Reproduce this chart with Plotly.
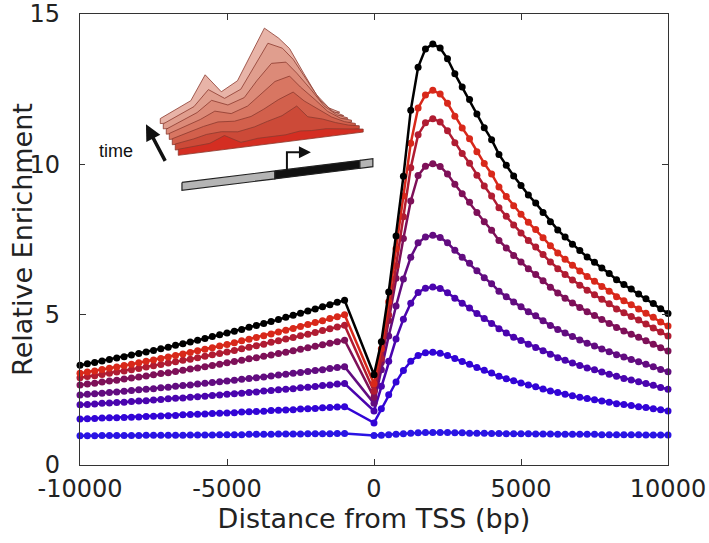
import plotly.graph_objects as go

# ---------------- data ----------------
X_LEFT = list(range(-10000, -999, 250))      # -10000 .. -1000
X_RIGHT = list(range(0, 10001, 250))         # 0 .. 10000

Y_BLACK_L = [3.32, 3.37, 3.41, 3.46, 3.51, 3.56, 3.60, 3.66, 3.71, 3.76, 3.81, 3.87, 3.92, 3.98, 4.03, 4.09, 4.15, 4.21, 4.27, 4.33, 4.39, 4.45, 4.51, 4.58, 4.64, 4.71, 4.77, 4.84, 4.91, 4.98, 5.05, 5.12, 5.19, 5.26, 5.33, 5.41, 5.48]
Y_BLACK_R = [3.00, 4.10, 5.75, 7.62, 9.60, 11.80, 13.23, 13.84, 14.00, 13.87, 13.51, 13.01, 12.57, 12.16, 11.67, 11.22, 10.82, 10.33, 9.97, 9.61, 9.30, 8.98, 8.71, 8.40, 8.09, 7.82, 7.58, 7.34, 7.13, 6.92, 6.74, 6.55, 6.37, 6.16, 6.00, 5.85, 5.69, 5.53, 5.37, 5.20, 5.04]

Y_RED_L = [3.05, 3.09, 3.13, 3.18, 3.22, 3.26, 3.31, 3.35, 3.40, 3.45, 3.49, 3.54, 3.59, 3.64, 3.69, 3.74, 3.80, 3.85, 3.90, 3.96, 4.01, 4.07, 4.13, 4.18, 4.24, 4.30, 4.36, 4.42, 4.48, 4.54, 4.61, 4.67, 4.74, 4.80, 4.87, 4.93, 5.00]
Y_RED_R = [2.70, 3.87, 5.43, 7.19, 8.95, 10.70, 11.87, 12.31, 12.46, 12.34, 12.03, 11.60, 11.21, 10.85, 10.42, 10.03, 9.68, 9.25, 8.93, 8.62, 8.34, 8.07, 7.83, 7.56, 7.29, 7.05, 6.84, 6.64, 6.45, 6.27, 6.11, 5.94, 5.78, 5.60, 5.46, 5.33, 5.19, 5.05, 4.91, 4.76, 4.62]

Y_DKRED_L = [2.90, 2.94, 2.97, 3.01, 3.05, 3.09, 3.13, 3.17, 3.21, 3.26, 3.30, 3.34, 3.39, 3.43, 3.48, 3.52, 3.57, 3.62, 3.67, 3.71, 3.76, 3.81, 3.87, 3.92, 3.97, 4.02, 4.08, 4.13, 4.19, 4.24, 4.30, 4.35, 4.41, 4.47, 4.53, 4.59, 4.65]
Y_DKRED_R = [2.45, 3.54, 4.99, 6.62, 8.26, 9.89, 10.98, 11.38, 11.52, 11.41, 11.12, 10.72, 10.36, 10.04, 9.64, 9.28, 8.95, 8.56, 8.27, 7.98, 7.72, 7.47, 7.25, 7.00, 6.75, 6.53, 6.34, 6.15, 5.98, 5.81, 5.66, 5.51, 5.36, 5.19, 5.06, 4.94, 4.82, 4.69, 4.56, 4.42, 4.29]

Y_MAGENTA_L = [2.66, 2.69, 2.72, 2.76, 2.79, 2.82, 2.86, 2.89, 2.93, 2.96, 3.00, 3.04, 3.07, 3.11, 3.15, 3.19, 3.23, 3.27, 3.31, 3.35, 3.40, 3.44, 3.48, 3.53, 3.57, 3.62, 3.66, 3.71, 3.75, 3.80, 3.85, 3.90, 3.95, 4.00, 4.05, 4.10, 4.15]
Y_MAGENTA_R = [2.25, 3.42, 4.81, 6.21, 7.53, 8.78, 9.63, 9.94, 10.02, 9.93, 9.68, 9.34, 9.02, 8.74, 8.40, 8.09, 7.81, 7.47, 7.22, 6.97, 6.75, 6.53, 6.34, 6.13, 5.91, 5.72, 5.55, 5.39, 5.24, 5.10, 4.97, 4.84, 4.71, 4.57, 4.46, 4.35, 4.25, 4.13, 4.02, 3.90, 3.79]

Y_PURPLE_L = [2.33, 2.35, 2.37, 2.39, 2.41, 2.43, 2.45, 2.48, 2.50, 2.52, 2.54, 2.57, 2.59, 2.62, 2.64, 2.66, 2.69, 2.72, 2.74, 2.77, 2.79, 2.82, 2.85, 2.88, 2.90, 2.93, 2.96, 2.99, 3.02, 3.05, 3.08, 3.11, 3.14, 3.17, 3.21, 3.24, 3.27]
Y_PURPLE_R = [2.05, 3.17, 4.29, 5.29, 6.19, 6.91, 7.39, 7.58, 7.64, 7.57, 7.39, 7.14, 6.91, 6.71, 6.46, 6.23, 6.03, 5.78, 5.60, 5.42, 5.26, 5.10, 4.96, 4.80, 4.64, 4.51, 4.39, 4.27, 4.16, 4.05, 3.96, 3.86, 3.77, 3.67, 3.59, 3.51, 3.43, 3.35, 3.27, 3.18, 3.10]

Y_INDIGO_L = [2.00, 2.01, 2.03, 2.05, 2.06, 2.08, 2.09, 2.11, 2.13, 2.14, 2.16, 2.18, 2.20, 2.22, 2.23, 2.25, 2.27, 2.29, 2.31, 2.33, 2.35, 2.37, 2.39, 2.41, 2.43, 2.46, 2.48, 2.50, 2.52, 2.54, 2.57, 2.59, 2.61, 2.64, 2.66, 2.69, 2.71]
Y_INDIGO_R = [1.80, 2.62, 3.45, 4.19, 4.85, 5.38, 5.74, 5.88, 5.92, 5.87, 5.73, 5.55, 5.38, 5.22, 5.04, 4.87, 4.71, 4.53, 4.39, 4.25, 4.14, 4.02, 3.91, 3.80, 3.68, 3.57, 3.48, 3.39, 3.31, 3.23, 3.17, 3.09, 3.02, 2.95, 2.88, 2.83, 2.77, 2.71, 2.65, 2.58, 2.52]

Y_BLUE_L = [1.53, 1.54, 1.55, 1.56, 1.57, 1.57, 1.58, 1.59, 1.60, 1.61, 1.62, 1.63, 1.64, 1.65, 1.67, 1.68, 1.69, 1.70, 1.71, 1.72, 1.73, 1.74, 1.76, 1.77, 1.78, 1.79, 1.81, 1.82, 1.83, 1.84, 1.86, 1.87, 1.88, 1.90, 1.91, 1.93, 1.94]
Y_BLUE_R = [1.40, 1.87, 2.34, 2.76, 3.14, 3.45, 3.64, 3.73, 3.75, 3.72, 3.64, 3.54, 3.44, 3.35, 3.24, 3.15, 3.06, 2.95, 2.87, 2.80, 2.73, 2.66, 2.60, 2.53, 2.46, 2.41, 2.35, 2.30, 2.25, 2.21, 2.17, 2.13, 2.09, 2.04, 2.01, 1.98, 1.94, 1.91, 1.87, 1.84, 1.80]

Y_FLAT_L = [0.97, 0.97, 0.97, 0.98, 0.98, 0.98, 0.98, 0.98, 0.98, 0.99, 0.99, 0.99, 0.99, 0.99, 0.99, 1.00, 1.00, 1.00, 1.00, 1.01, 1.01, 1.01, 1.01, 1.02, 1.02, 1.02, 1.02, 1.03, 1.03, 1.03, 1.03, 1.04, 1.04, 1.04, 1.04, 1.05, 1.05]
Y_FLAT_R = [0.98, 0.99, 1.01, 1.02, 1.04, 1.06, 1.07, 1.08, 1.08, 1.08, 1.08, 1.07, 1.07, 1.06, 1.06, 1.06, 1.05, 1.05, 1.04, 1.04, 1.04, 1.04, 1.03, 1.03, 1.03, 1.02, 1.02, 1.02, 1.02, 1.02, 1.02, 1.01, 1.01, 1.01, 1.01, 1.01, 1.01, 1.00, 1.00, 1.00, 1.00]

SERIES = [  # drawn bottom (blue) to top (black)
    ("flat", Y_FLAT_L, Y_FLAT_R, "#2a14e4"),
    ("blue", Y_BLUE_L, Y_BLUE_R, "#3204d6"),
    ("indigo", Y_INDIGO_L, Y_INDIGO_R, "#4a04ae"),
    ("purple", Y_PURPLE_L, Y_PURPLE_R, "#620c80"),
    ("magenta", Y_MAGENTA_L, Y_MAGENTA_R, "#7e1058"),
    ("dkred", Y_DKRED_L, Y_DKRED_R, "#b01c32"),
    ("red", Y_RED_L, Y_RED_R, "#d8281a"),
    ("black", Y_BLACK_L, Y_BLACK_R, "#000000"),
]

X_TICKS = [-10000, -5000, 0, 5000, 10000]
Y_TICKS = [0, 5, 10, 15]
X_TITLE = "Distance from TSS (bp)"
Y_TITLE = "Relative Enrichment"

# inset schematic (ridge heights per time layer, front -> back)
INSET_S = [0, .1, .17, .25, .34, .43, .5, .58, .66, .72, .8, .87, .94, 1.0]
INSET_LAYERS = [
    [6, 7, 8, 14, 5, 7, 7, 7, 9, 8, 8, 6, 4, 3],
    [6, 9, 12, 13, 11, 14, 18, 22, 30, 18, 14, 9, 5, 3],
    [6, 11, 15, 18, 17, 20, 26, 34, 40, 30, 20, 11, 5, 2],
    [6, 12, 17, 24, 20, 26, 36, 48, 52, 40, 26, 13, 5, 2],
    [5, 13, 19, 30, 24, 30, 46, 62, 62, 50, 32, 15, 5, 1],
    [5, 14, 20, 36, 26, 34, 54, 78, 72, 60, 37, 17, 5, 0],
    [5, 14, 21, 46, 28, 38, 62, 89, 78, 67, 41, 19, 5, 0],
]
INSET_COLORS = ["#d42e22", "#cc4a38", "#d2604c", "#d87662", "#dc8a78", "#e09e8e", "#e8b4a8"]

for nm, yl, yr, _ in SERIES:
    assert len(yl) == len(X_LEFT), nm
    assert len(yr) == len(X_RIGHT), nm

FONT = "DejaVu Sans"
fig = go.Figure()

for nm, yl, yr, col in SERIES:
    fig.add_trace(go.Scatter(
        x=X_LEFT + X_RIGHT, y=yl + yr, mode="lines+markers",
        line=dict(color=col, width=2.5),
        marker=dict(symbol="circle", size=7, color=col),
        cliponaxis=False, showlegend=False, hoverinfo="skip", name=nm))

# ---- inset (pixel-like coordinates on hidden axes) ----
for i in range(len(INSET_LAYERS) - 1, -1, -1):
    lx, ly = 178.3 - 3.0 * i, 155.0 - 5.3 * i
    rx, ry = 363.3 - 3.9 * i, 131.7 - 3.3 * i
    bx = [lx + s * (rx - lx) for s in INSET_S]
    by = [ly + s * (ry - ly) for s in INSET_S]
    ty = [b - h for b, h in zip(by, INSET_LAYERS[i])]
    px = bx + bx[::-1] + [bx[0]]
    py = ty + by[::-1] + [ty[0]]
    fig.add_trace(go.Scatter(
        x=px, y=py, mode="lines", fill="toself", fillcolor=INSET_COLORS[i],
        line=dict(color="#8c3a2e", width=0.8), xaxis="x2", yaxis="y2",
        showlegend=False, hoverinfo="skip"))

# gene bar
GENE_PARTS = [
    ([182, 275, 275, 182, 182], [182.1, 170.6, 178.6, 190.1, 182.1], "#b4b4b4"),
    ([275, 360, 360, 275, 275], [170.6, 160.0, 168.0, 178.6, 170.6], "#111111"),
    ([360, 373, 373, 360, 360], [160.0, 158.4, 166.4, 168.0, 160.0], "#b4b4b4"),
]
for gx, gy, gc in GENE_PARTS:
    fig.add_trace(go.Scatter(
        x=gx, y=gy, mode="lines", fill="toself", fillcolor=gc,
        line=dict(color="#222222", width=1.2), xaxis="x2", yaxis="y2",
        showlegend=False, hoverinfo="skip"))
fig.add_trace(go.Scatter(
    x=[287, 287, 302], y=[169.5, 152, 152], mode="lines",
    line=dict(color="#111111", width=2), xaxis="x2", yaxis="y2",
    showlegend=False, hoverinfo="skip"))

annotations = [
    dict(x=311, y=152, ax=299, ay=152, xref="x2", yref="y2", axref="x2", ayref="y2",
         text="", showarrow=True, arrowhead=2, arrowsize=1.2, arrowwidth=2, arrowcolor="#111111"),
    dict(x=146, y=124, ax=166, ay=162, xref="x2", yref="y2", axref="x2", ayref="y2",
         text="", showarrow=True, arrowhead=2, arrowsize=0.9, arrowwidth=3.5, arrowcolor="#111111"),
    dict(x=116, y=151, xref="x2", yref="y2", text="time", showarrow=False,
         font=dict(family="Liberation Sans", size=18, color="#111111")),
    # y-axis title placed as rotated text
    dict(x=-0.098, y=0.5, xref="paper", yref="paper", text=Y_TITLE, textangle=-90,
         showarrow=False, xanchor="center", yanchor="middle",
         font=dict(family=FONT, size=27, color="#222222")),
]

axis_common = dict(
    showgrid=False, zeroline=False, showline=True, linecolor="#333333", linewidth=1.3,
    mirror="ticks", ticks="inside", ticklen=6, tickwidth=1.2, tickcolor="#333333",
    tickfont=dict(family=FONT, size=24, color="#222222"), automargin=False,
    ticklabeloverflow="allow",
)

fig.update_layout(
    width=709, height=543,
    margin=dict(l=80, r=41, t=13.5, b=78),
    paper_bgcolor="white", plot_bgcolor="white",
    font=dict(family=FONT, color="#222222"),
    xaxis=dict(range=[-10000, 10000], tickvals=X_TICKS, ticktext=[str(v) for v in X_TICKS],
               title=dict(text=X_TITLE, font=dict(family=FONT, size=27, color="#222222"), standoff=0),
               ticklabelstandoff=2, **axis_common),
    yaxis=dict(range=[0, 15], tickvals=Y_TICKS, ticklabelstandoff=14, **axis_common),
    xaxis2=dict(domain=[0.0085, 0.510], range=[85, 380], visible=False, anchor="y2"),
    yaxis2=dict(domain=[0.587, 0.9856], range=[200, 20], visible=False, anchor="x2"),
    annotations=annotations,
)

fig.write_html("out.html", config={"displayModeBar": False},
               post_script="document.body.style.margin='0px';")
